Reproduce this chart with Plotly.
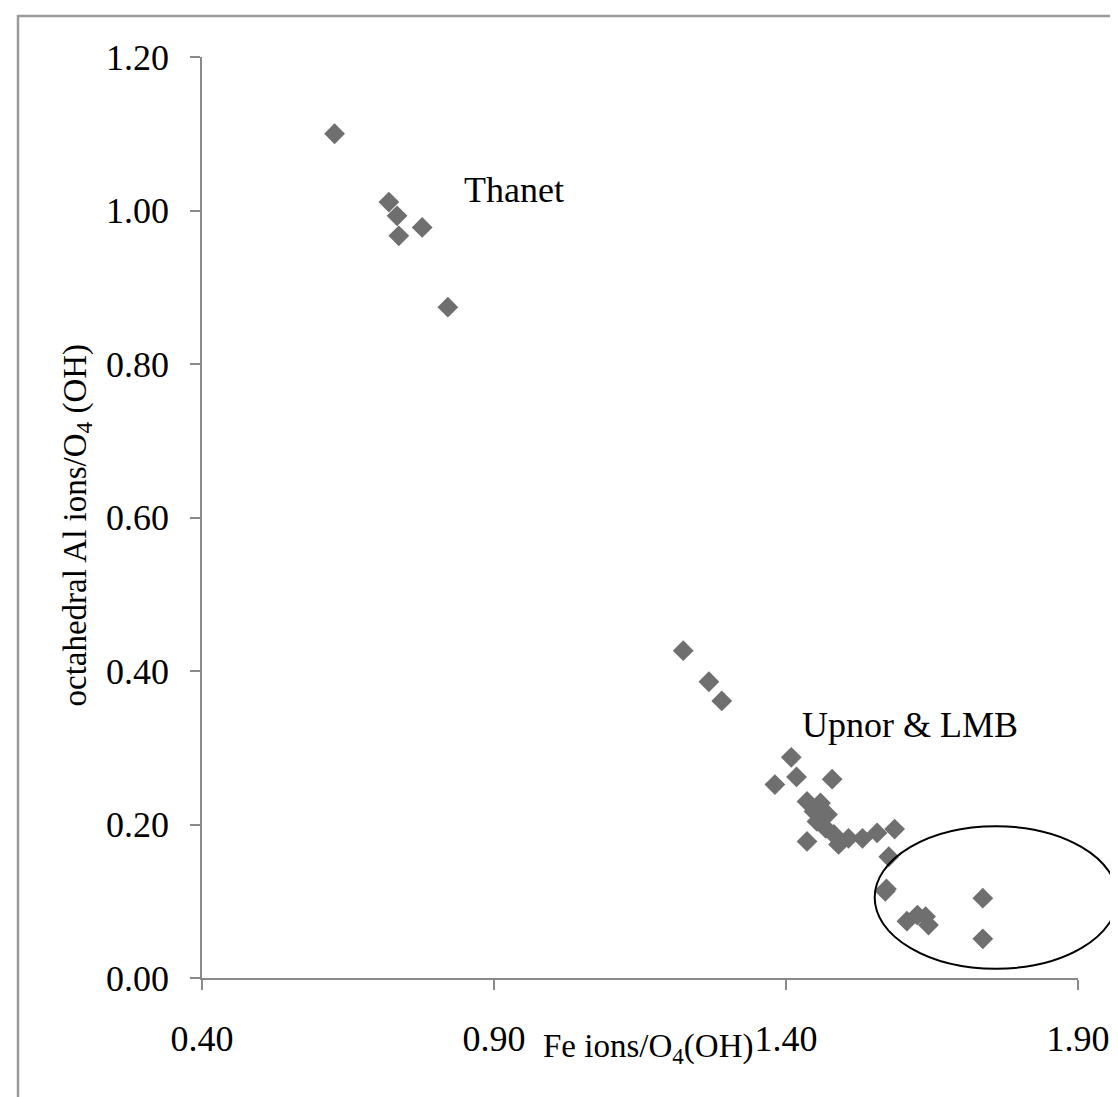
import plotly.graph_objects as go

# Thanet samples
thanet_fe = [0.627, 0.720, 0.734, 0.737, 0.777, 0.821]
thanet_al = [1.100, 1.011, 0.993, 0.967, 0.978, 0.874]

# Upnor & LMB samples
upnor_fe = [1.224, 1.268, 1.290, 1.409, 1.381, 1.418, 1.479, 1.436, 1.459, 1.471,
            1.448, 1.453, 1.468, 1.482, 1.436, 1.490, 1.507, 1.531, 1.556, 1.586,
            1.576, 1.572, 1.570, 1.607, 1.625, 1.639, 1.644, 1.737, 1.737]
upnor_al = [0.4265, 0.386, 0.361, 0.2875, 0.252, 0.262, 0.259, 0.230, 0.228, 0.213,
            0.217, 0.204, 0.195, 0.187, 0.178, 0.174, 0.182, 0.182, 0.189, 0.194,
            0.158, 0.116, 0.113, 0.074, 0.082, 0.080, 0.069, 0.104, 0.051]

x_ticks = [0.40, 0.90, 1.40, 1.90]
y_ticks = [0.00, 0.20, 0.40, 0.60, 0.80, 1.00, 1.20]

FONT = "Liberation Serif"
W, H = 1118, 1097
L, R, T, B = 194, 48, 49, 127
PW, PH = W - L - R, H - T - B


def px(x):
    return (x - L) / PW


def py(y):
    return (H - B - y) / PH


fig = go.Figure()
fig.add_trace(go.Scatter(
    x=thanet_fe + upnor_fe, y=thanet_al + upnor_al, mode="markers",
    marker=dict(symbol="diamond", size=16, color="#6f6f6f"),
    showlegend=False, cliponaxis=False,
))

axis_common = dict(
    showgrid=False, zeroline=False, showline=True, linecolor="#898989", linewidth=1.5,
    ticks="outside", ticklen=10, tickcolor="#898989", tickwidth=1.5,
    tickfont=dict(family=FONT, size=36, color="black"),
)
fig.update_xaxes(range=[0.40, 1.90], tickvals=x_ticks,
                 ticktext=[f"{v:.2f}" for v in x_ticks], ticklabelstandoff=18, **axis_common)
fig.update_yaxes(range=[0.00, 1.20], tickvals=y_ticks,
                 ticktext=[f"{v:.2f}" for v in y_ticks], ticklabelstandoff=14, **axis_common)

fig.add_annotation(text="Fe ions/O<sub>4</sub>(OH)", xref="paper", yref="paper",
                   x=px(640), y=py(1063), showarrow=False,
                   font=dict(family=FONT, size=33, color="black"))
fig.add_annotation(text="octahedral Al ions/O<sub>4</sub> (OH)", xref="paper", yref="paper",
                   x=px(46), y=py(517), showarrow=False, textangle=-90,
                   font=dict(family=FONT, size=33, color="black"))
fig.add_annotation(text="Thanet", x=0.9336, y=1.0267, showarrow=False,
                   font=dict(family=FONT, size=36, color="black"))
fig.add_annotation(text="Upnor &amp; LMB", x=1.6126, y=0.330, showarrow=False,
                   font=dict(family=FONT, size=36, color="black"))

fig.add_shape(type="circle", xref="paper", yref="paper",
              x0=px(866.7), x1=px(1109.3), y0=py(960.7), y1=py(818.3),
              line=dict(color="black", width=2))
fig.add_shape(type="rect", xref="paper", yref="paper",
              x0=px(10), x1=px(1116), y0=py(1105), y1=py(8),
              line=dict(color="#9a9a9a", width=2.5))

fig.update_layout(width=W, height=H, margin=dict(l=L, r=R, t=T, b=B),
                  plot_bgcolor="white", paper_bgcolor="white")
fig.write_html("out.html")
